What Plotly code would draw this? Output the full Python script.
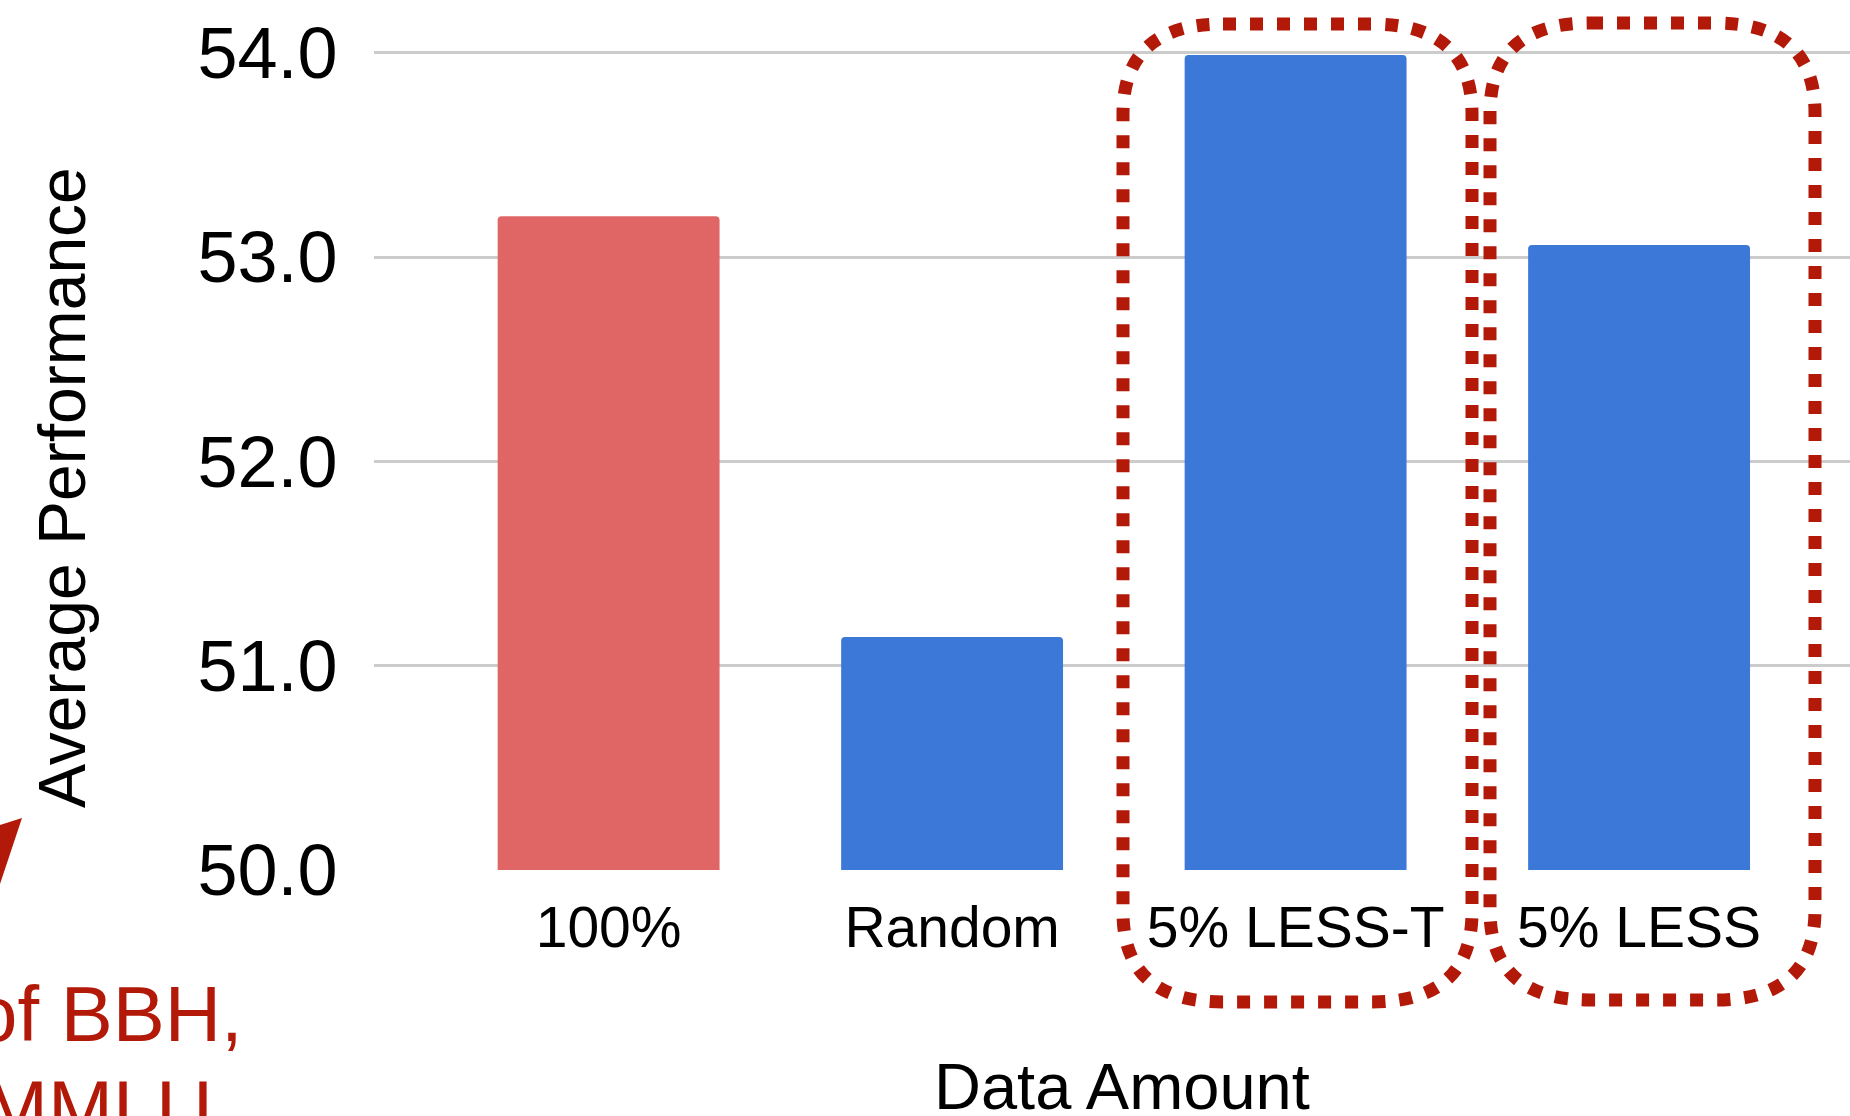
import plotly.graph_objects as go

# ---- data ----
categories = ["100%", "Random", "5% LESS-T", "5% LESS"]
values = [53.20, 51.14, 53.99, 53.06]
bar_colors = ["#e06666", "#3c78d8", "#3c78d8", "#3c78d8"]
y_ticks = [50, 51, 52, 53, 54]
y_title = "Average Performance"
x_title = "Data Amount"
note_lines = ["of BBH,", "MMLU"]

# ---- layout geometry (pixels) ----
W, H = 1850, 1116
ML, MR, MT, MB = 374, 0, 12, 246
PW, PH = W - ML - MR, H - MT - MB
RED = "#b31908"


def px(xp):
    return (xp - ML) / PW


def py(yp):
    return (H - MB - yp) / PH


def rounded_rect(x0, y0, x1, y1, rx, ry):
    pts = [
        f"M{px(x0 + rx)},{py(y0)}",
        f"L{px(x1 - rx)},{py(y0)}",
        f"Q{px(x1)},{py(y0)} {px(x1)},{py(y0 + ry)}",
        f"L{px(x1)},{py(y1 - ry)}",
        f"Q{px(x1)},{py(y1)} {px(x1 - rx)},{py(y1)}",
        f"L{px(x0 + rx)},{py(y1)}",
        f"Q{px(x0)},{py(y1)} {px(x0)},{py(y1 - ry)}",
        f"L{px(x0)},{py(y0 + ry)}",
        f"Q{px(x0)},{py(y0)} {px(x0 + rx)},{py(y0)}",
        "Z",
    ]
    return " ".join(pts)


fig = go.Figure()
fig.add_trace(
    go.Bar(
        x=categories,
        y=values,
        marker=dict(color=bar_colors, line=dict(width=0), cornerradius=4),
        showlegend=False,
    )
)

FONT = "Arial, 'Liberation Sans', sans-serif"

fig.update_layout(
    width=W,
    height=H,
    margin=dict(l=ML, r=MR, t=MT, b=MB, pad=0),
    paper_bgcolor="white",
    plot_bgcolor="white",
    bargap=0.354,
    font=dict(family=FONT, color="black"),
    xaxis=dict(
        type="category",
        range=[-0.683, 3.614],
        showgrid=False,
        zeroline=False,
        showline=False,
        ticks="outside",
        ticklen=8,
        tickcolor="rgba(0,0,0,0)",
        tickfont=dict(size=57, family=FONT, color="black"),
    ),
    yaxis=dict(
        range=[50, 54.2],
        tickvals=y_ticks,
        tickformat=".1f",
        showgrid=True,
        gridcolor="#cccccc",
        gridwidth=3,
        zeroline=False,
        showline=False,
        ticks="outside",
        ticklen=21,
        tickcolor="rgba(0,0,0,0)",
        tickfont=dict(size=72, family=FONT, color="black"),
    ),
)

annotations = [
    dict(text=y_title, textangle=-90, x=px(62), y=py(488), xref="paper", yref="paper",
         xanchor="center", yanchor="middle", showarrow=False,
         font=dict(size=66, family=FONT, color="black")),
    dict(text=x_title, x=px(1122), y=py(1086), xref="paper", yref="paper",
         xanchor="center", yanchor="middle", showarrow=False,
         font=dict(size=65, family=FONT, color="black")),
    dict(text=note_lines[0], x=px(245), y=py(1014), xref="paper", yref="paper",
         xanchor="right", yanchor="middle", showarrow=False,
         font=dict(size=78, family=FONT, color=RED)),
    dict(text=note_lines[1], x=px(215), y=py(1108), xref="paper", yref="paper",
         xanchor="right", yanchor="middle", showarrow=False,
         font=dict(size=78, family=FONT, color=RED)),
]
fig.update_layout(annotations=annotations)

shapes = [
    dict(type="path", xref="paper", yref="paper",
         path=rounded_rect(1123, 24, 1472, 1002, 100, 90),
         line=dict(color=RED, width=13, dash="13px,14px"), fillcolor="rgba(0,0,0,0)",
         layer="above"),
    dict(type="path", xref="paper", yref="paper",
         path=rounded_rect(1490, 23, 1815, 1000, 100, 90),
         line=dict(color=RED, width=13, dash="13px,14px"), fillcolor="rgba(0,0,0,0)",
         layer="above"),
    dict(type="path", xref="paper", yref="paper",
         path=f"M{px(-6)},{py(827)} L{px(22)},{py(818)} L{px(0)},{py(884)} L{px(-6)},{py(900)} Z",
         line=dict(width=0), fillcolor=RED, layer="above"),
]
fig.update_layout(shapes=shapes)

fig.write_html(
    "out.html",
    config={"displayModeBar": False},
    post_script="document.body.style.margin='0';document.body.style.overflow='hidden';",
)
